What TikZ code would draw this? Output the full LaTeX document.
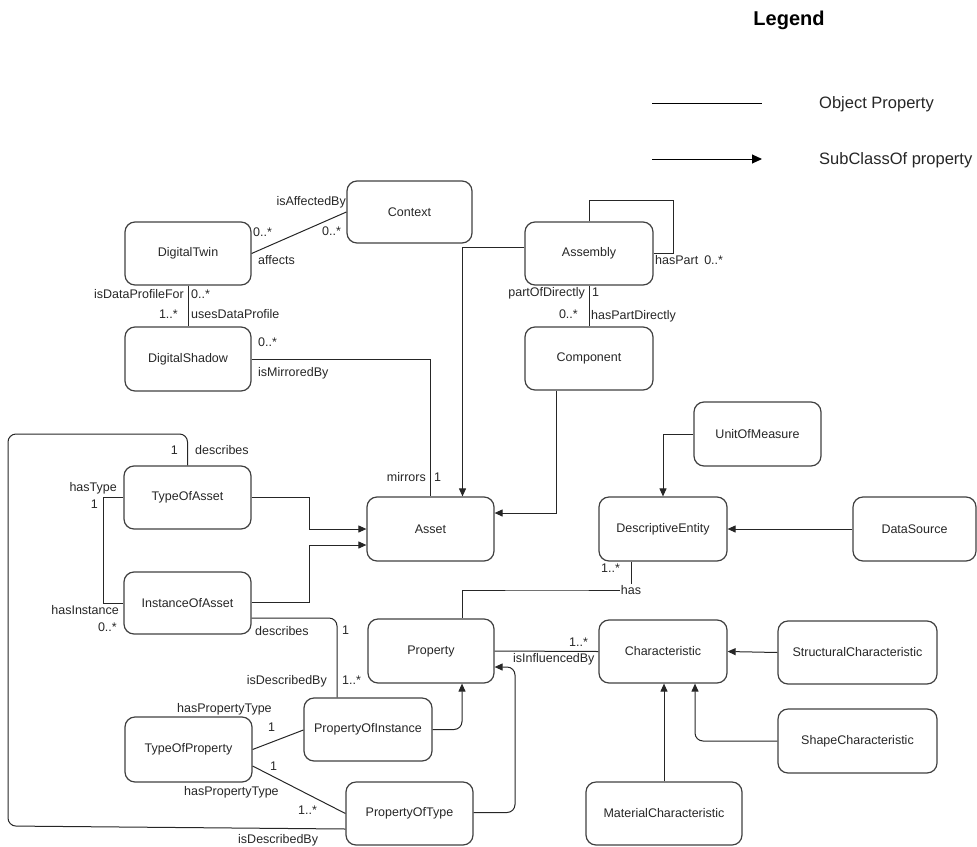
\documentclass[tikz,border=0pt]{standalone}
\usepackage{fontspec}
\setmainfont{Liberation Sans}
\usetikzlibrary{arrows.meta,calc}
\definecolor{ink}{HTML}{262626}
\definecolor{frame}{HTML}{404040}
\begin{document}
\begin{tikzpicture}[x=1pt,y=-1pt,
  box/.style={draw=frame,line width=1.2pt,rounded corners=10pt,inner sep=0pt,
    minimum width=127pt,minimum height=63pt,text=ink,
    font=\fontsize{12.5}{14}\selectfont},
  conn/.style={draw=ink,line width=1pt},
  sub/.style={conn,-{Triangle[length=8pt,width=7pt]}},
  lbl/.style={inner sep=0pt,text=ink,font=\fontsize{12.5}{14}\selectfont},
  legtxt/.style={inner sep=0pt,text=ink,font=\fontsize{16.5}{19}\selectfont}]
\useasboundingbox (0,0) rectangle (977,846);

% ---------- classes ----------
\node[box,minimum width=125pt,minimum height=62pt] (ctx) at (409.5,212) {Context};
\node[box,minimum width=126pt] (dt) at (188,253.5) {DigitalTwin};
\node[box,minimum width=126pt,minimum height=64pt] (ds) at (188,359) {DigitalShadow};
\node[box,minimum width=128pt] (asm) at (589,253.5) {Assembly};
\node[box,minimum width=128pt] (cmp) at (589,358.5) {Component};
\node[box,minimum height=64pt] (asset) at (430.5,529) {Asset};
\node[box] (toa) at (187.5,497.5) {TypeOfAsset};
\node[box,minimum height=62pt] (ioa) at (187.5,603) {InstanceOfAsset};
\node[box,minimum width=126pt,minimum height=64pt] (prop) at (431,651) {Property};
\node[box,minimum width=128pt] (poi) at (368,729.5) {PropertyOfInstance};
\node[box,minimum height=65pt] (tprop) at (188.5,749.5) {TypeOfProperty};
\node[box] (pot) at (409.5,813.5) {PropertyOfType};
\node[box,minimum width=128pt] (char) at (663,651.5) {Characteristic};
\node[box,minimum width=128pt,minimum height=64pt] (de) at (663,529) {DescriptiveEntity};
\node[box,minimum height=64pt] (uom) at (757.5,434) {UnitOfMeasure};
\node[box,minimum width=123pt,minimum height=64pt] (dsrc) at (914.5,529) {DataSource};
\node[box,minimum width=159pt] (sc) at (857.5,652.5) {StructuralCharacteristic};
\node[box,minimum width=159pt,minimum height=64pt] (shc) at (857.5,741) {ShapeCharacteristic};
\node[box,minimum width=156pt] (mc) at (664,813.5) {MaterialCharacteristic};

% ---------- object properties ----------
\draw[conn] (dt.east) -- (ctx.west);
\draw[conn] (dt.south) -- (ds.north);
\draw[conn] (ds.east) -| (asset.north);
\draw[conn] (asm.north) |- (673,200) |- (asm.east);
\draw[conn] (asm.south) -- (cmp.north);
\draw[conn] (toa.west) -- ++(-20,0) |- (ioa.west);
\draw[conn,rounded corners=8pt] (toa.north) |- (8,434) -- (8,826)
  -- ($(pot.west)+(0,15.5)$);
\draw[conn,rounded corners=8pt] ($(ioa.east)+(0,15)$) -| ($(poi.north)+(-31,0)$);
\draw[conn] (tprop.east) -- ($(poi.west)+(0,0.5)$);
\draw[conn] ($(tprop.east)+(0,16.5)$) -- (pot.west);
\draw[conn] ($(de.south)+(-32,0)$) |- (547,590) -| ($(prop.north)+(31,0)$);
\draw[conn] (prop.east) -- (char.west);

% ---------- subclass relations ----------
\draw[sub] ($(asm.west)+(0,-6.5)$) -| ($(asset.north)+(32,0)$);
\draw[sub] ($(cmp.south)+(-32.5,0)$) |- ($(asset.east)+(0,-16)$);
\draw[sub] (toa.east) -- ++(58,0) |- (asset.west);
\draw[sub] ($(ioa.east)+(0,-1)$) -- ++(58,0) |- ($(asset.west)+(0,16)$);
\draw[sub,rounded corners=8pt] (poi.east) -| ($(prop.south)+(31,0)$);
\draw[sub,rounded corners=8pt] ($(pot.east)+(0,-1)$) -- (515,812.5)
  |- ($(prop.east)+(0,16)$);
\draw[sub] (sc.west) -- (char.east);
\draw[sub,rounded corners=8pt] (shc.west) -| ($(char.south)+(32,0)$);
\draw[sub] (mc.north) -- (mc.north |- char.south);
\draw[sub] (uom.west) -| (de.north);
\draw[sub] (dsrc.west) -- (de.east);

% ---------- role names and multiplicities ----------
\node[lbl,anchor=mid east] (l1) at (346,203) {isAffectedBy};
\node[lbl,anchor=mid west] (l2) at (322,233) {0..*};
\node[lbl,anchor=mid west] (l3) at (253,234) {0..*};
\node[lbl,anchor=mid west] (l4) at (258,262) {affects};
\node[lbl,anchor=mid east] (l5) at (184,296) {isDataProfileFor};
\node[lbl,anchor=mid west] (l6) at (191,296) {0..*};
\node[lbl,anchor=mid east] (l7) at (178,316) {1..*};
\node[lbl,anchor=mid west] (l8) at (191,316) {usesDataProfile};
\node[lbl,anchor=mid west] (l9) at (258,344) {0..*};
\node[lbl,anchor=mid west] (l10) at (258,374) {isMirroredBy};
\node[lbl,anchor=mid east] (l11) at (426,479) {mirrors};
\node[lbl,anchor=mid west] (l12) at (434,479) {1};
\node[lbl,anchor=mid west] (l13) at (655,262) {hasPart\hspace{6pt}0..*};
\node[lbl,anchor=mid east] (l14) at (585,294) {partOfDirectly};
\node[lbl,anchor=mid west] (l15) at (592,294) {1};
\node[lbl,anchor=mid east] (l16) at (578,316) {0..*};
\node[lbl,anchor=mid west] (l17) at (591,317) {hasPartDirectly};
\node[lbl,anchor=mid east] (l18) at (178,452) {1};
\node[lbl,anchor=mid west] (l19) at (195,452) {describes};
\node[lbl,anchor=mid east] (l20) at (117,489) {hasType};
\node[lbl,anchor=mid east] (l21) at (98,506) {1};
\node[lbl,anchor=mid east] (l22) at (119,612) {hasInstance};
\node[lbl,anchor=mid east] (l23) at (117,629) {0..*};
\node[lbl,anchor=mid west] (l24) at (255,633) {describes};
\node[lbl,anchor=mid west] (l25) at (342,632) {1};
\node[lbl,anchor=mid east] (l26) at (327,682) {isDescribedBy};
\node[lbl,anchor=mid west] (l27) at (342,682) {1..*};
\node[lbl,anchor=mid west] (l28) at (177,710) {hasPropertyType};
\node[lbl,anchor=mid west] (l29) at (268,729) {1};
\node[lbl,anchor=mid west] (l30) at (270,768) {1};
\node[lbl,anchor=mid west] (l31) at (184,793) {hasPropertyType};
\node[lbl,anchor=mid west] (l32) at (298,812) {1..*};
\node[lbl,anchor=mid west] (l33) at (238,840.5) {isDescribedBy};
\node[lbl,anchor=mid west] (l34) at (601,570) {1..*};
\node[lbl,fill=white,inner sep=1pt] (l35) at (631,590) {has};
\node[lbl,anchor=mid west] (l36) at (569,644) {1..*};
\node[lbl,anchor=mid west] (l37) at (513,660) {isInfluencedBy};

% ---------- legend ----------
\node[inner sep=0pt,text=black,font=\fontsize{20}{24}\selectfont\bfseries] (legend) at (789,20) {Legend};
\coordinate (op1) at (652,103);
\coordinate (op2) at (762,103);
\coordinate (sp1) at (652,159);
\coordinate (sp2) at (762,159);
\draw[conn,draw=black] (op1) -- (op2);
\draw[conn,draw=black,-{Triangle[length=10pt,width=9pt]}] (sp1) -- (sp2);
\node[legtxt,anchor=mid west] (lg1) at (819,106) {Object Property};
\node[legtxt,anchor=mid west] (lg2) at (819,162) {SubClassOf property};
\end{tikzpicture}
\end{document}
